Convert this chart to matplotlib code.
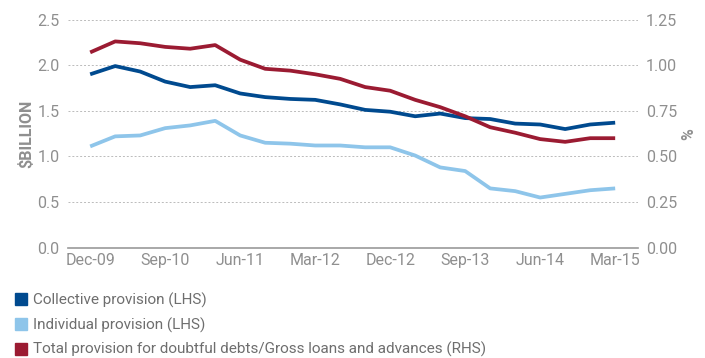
import matplotlib
matplotlib.use("Agg")
import matplotlib.pyplot as plt
from matplotlib.patches import Patch

plt.rcParams['font.family'] = ['Roboto', 'DejaVu Sans']

quarters = ["Dec-09", "Mar-10", "Jun-10", "Sep-10", "Dec-10", "Mar-11", "Jun-11",
            "Sep-11", "Dec-11", "Mar-12", "Jun-12", "Sep-12", "Dec-12", "Mar-13",
            "Jun-13", "Sep-13", "Dec-13", "Mar-14", "Jun-14", "Sep-14", "Dec-14", "Mar-15"]
collective = [1.90, 1.99, 1.93, 1.82, 1.76, 1.78, 1.69, 1.65, 1.63, 1.62, 1.57,
              1.51, 1.49, 1.44, 1.47, 1.42, 1.41, 1.36, 1.35, 1.30, 1.35, 1.37]
individual = [1.11, 1.22, 1.23, 1.31, 1.34, 1.39, 1.23, 1.15, 1.14, 1.12, 1.12,
              1.10, 1.10, 1.01, 0.88, 0.84, 0.65, 0.62, 0.55, 0.59, 0.63, 0.65]
ratio = [1.07, 1.13, 1.12, 1.10, 1.09, 1.11, 1.03, 0.98, 0.97, 0.95, 0.925,
         0.88, 0.86, 0.81, 0.77, 0.72, 0.66, 0.63, 0.595, 0.58, 0.60, 0.60]
tick_labels = ["Dec-09", "Sep-10", "Jun-11", "Mar-12", "Dec-12", "Sep-13", "Jun-14", "Mar-15"]
series_names = ["Collective provision (LHS)", "Individual provision (LHS)",
                "Total provision for doubtful debts/Gross loans and advances (RHS)"]

c_dark = "#004A8F"
c_light = "#8EC5EA"
c_red = "#9B1B32"
gray = "#8f8f8f"

fig = plt.figure(figsize=(7.05, 3.58), dpi=100)
ax = fig.add_axes([0.096, 0.308, 0.8085, 0.6375])
ax2 = ax.twinx()

x = list(range(len(quarters)))
ax.plot(x, collective, color=c_dark, lw=2.7, solid_capstyle='butt', zorder=3, clip_on=False)
ax.plot(x, individual, color=c_light, lw=2.7, solid_capstyle='butt', zorder=3, clip_on=False)
ax2.plot(x, ratio, color=c_red, lw=2.7, solid_capstyle='butt', zorder=3, clip_on=False)

ax.set_xlim(-0.9, 21.9)
ax.set_ylim(0, 2.5)
ax2.set_ylim(0, 1.25)
ax.set_yticks([0, 0.5, 1.0, 1.5, 2.0, 2.5])
ax.set_yticklabels(["0.0", "0.5", "1.0", "1.5", "2.0", "2.5"])
ax2.set_yticks([0, 0.25, 0.5, 0.75, 1.0, 1.25])
ax2.set_yticklabels(["0.00", "0.25", "0.50", "0.75", "1.00", "1.25"])
ax.set_xticks([quarters.index(t) for t in tick_labels])
ax.set_xticklabels(tick_labels)

for a in (ax, ax2):
    for s in a.spines.values():
        s.set_visible(False)
    a.tick_params(length=0, labelsize=11.5, colors=gray, pad=6)
ax.spines['bottom'].set_visible(True)
ax.spines['bottom'].set_color("#999999")
ax.spines['bottom'].set_linewidth(1.2)
ax.tick_params(axis='x', pad=4)

ax.yaxis.grid(True, linestyle=(0, (2, 2)), color="#bbbbbb", lw=0.7)
ax.set_axisbelow(True)

ax.set_ylabel("$BILLION", color=gray, fontsize=11.5, fontweight='bold', labelpad=2)
ax2.set_ylabel("%", color=gray, fontsize=11.5, fontweight='bold', rotation=90, labelpad=3)

handles = [Patch(color=c) for c in (c_dark, c_light, c_red)]
fig.legend(handles, series_names, loc='upper left', bbox_to_anchor=(0.012, 0.2),
           frameon=False, fontsize=11, labelcolor="#6e6e6e", handlelength=0.8,
           handleheight=0.8, handletextpad=0.4, labelspacing=0.62, borderaxespad=0)

fig.savefig("out.png", dpi=100)
